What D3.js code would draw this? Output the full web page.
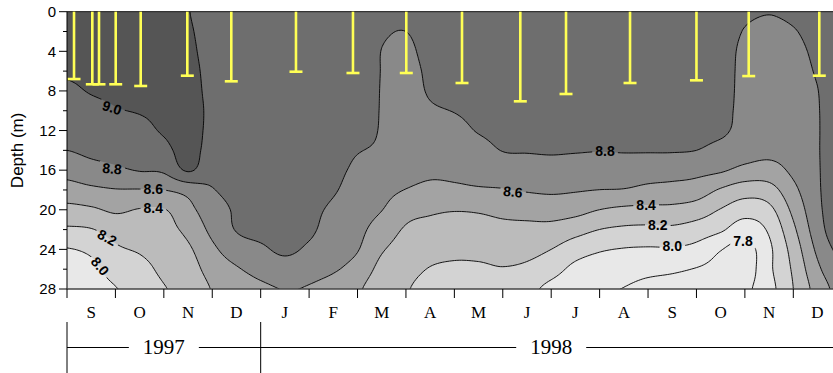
<!DOCTYPE html>
<html>
<head>
<meta charset="utf-8">
<script src="https://cdn.jsdelivr.net/npm/d3@7"></script>
<style>
  body { margin: 0; background: #fff; }
  svg { display: block; }
</style>
</head>
<body>
<div id="chart"></div>
<script>
// months from Sep 1997 to Dec 1998
const monthLabels = ["S", "O", "N", "D", "J", "F", "M", "A", "M", "J", "J", "A", "S", "O", "N", "D"];
const yearLabels = ["1997", "1998"];
const yearStarts = [0, 4];
const yearEnds = [4, 16];
const depthTicks = [0, 4, 8, 12, 16, 20, 24, 28];

// contour levels and the grey used for values >= each level
const levels = [7.8, 8.0, 8.2, 8.4, 8.6, 8.8, 9.0];
const levelColors = ["#e8e8e8", "#d3d3d3", "#bbbbbb", "#a3a3a3", "#898989", "#6e6e6e", "#555555"];

// grid of pH readings: one column per half month, one value per 2 m of depth
const gridMonths = [0, 0.5, 1, 1.5, 2, 2.5, 3, 3.5, 4, 4.5, 5, 5.5, 6, 6.5, 7, 7.5, 8,
  8.5, 9, 9.5, 10, 10.5, 11, 11.5, 12, 12.5, 13, 13.5, 14, 14.5, 15, 15.5, 16];
const gridDepths = [0, 2, 4, 6, 8, 10, 12, 14, 16, 18, 20, 22, 24, 26, 28];
const ph = [
  [9.12, 9.09, 9.05, 9.02, 8.97, 8.91, 8.86, 8.80, 8.67, 8.52, 8.34, 8.17, 7.99, 7.93, 7.88],
  [9.15, 9.12, 9.08, 9.04, 9.01, 8.95, 8.89, 8.84, 8.73, 8.56, 8.37, 8.19, 8.04, 7.95, 7.90],
  [9.16, 9.13, 9.10, 9.06, 9.03, 8.99, 8.93, 8.86, 8.77, 8.59, 8.43, 8.28, 8.17, 8.09, 7.99],
  [9.17, 9.14, 9.12, 9.09, 9.05, 9.01, 8.95, 8.88, 8.81, 8.59, 8.39, 8.30, 8.22, 8.14, 8.09],
  [9.18, 9.16, 9.13, 9.10, 9.07, 9.04, 9.02, 8.94, 8.83, 8.60, 8.39, 8.34, 8.29, 8.24, 8.19],
  [9.01, 9.03, 9.05, 9.07, 9.08, 9.09, 9.09, 9.08, 9.02, 8.67, 8.54, 8.45, 8.37, 8.31, 8.25],
  [8.92, 8.92, 8.92, 8.93, 8.94, 8.95, 8.94, 8.91, 8.86, 8.79, 8.72, 8.65, 8.56, 8.48, 8.41],
  [8.90, 8.90, 8.90, 8.90, 8.90, 8.90, 8.89, 8.88, 8.86, 8.84, 8.82, 8.81, 8.70, 8.58, 8.48],
  [8.90, 8.90, 8.90, 8.90, 8.90, 8.90, 8.89, 8.88, 8.88, 8.88, 8.87, 8.85, 8.77, 8.67, 8.56],
  [8.90, 8.90, 8.90, 8.90, 8.90, 8.90, 8.90, 8.89, 8.88, 8.87, 8.86, 8.85, 8.83, 8.72, 8.605],
  [8.90, 8.90, 8.90, 8.90, 8.90, 8.90, 8.90, 8.89, 8.88, 8.86, 8.84, 8.83, 8.77, 8.68, 8.585],
  [8.90, 8.90, 8.90, 8.90, 8.90, 8.89, 8.88, 8.86, 8.84, 8.815, 8.77, 8.72, 8.67, 8.62, 8.52],
  [8.90, 8.90, 8.90, 8.90, 8.90, 8.89, 8.88, 8.81, 8.77, 8.73, 8.69, 8.65, 8.61, 8.53, 8.43],
  [8.84, 8.82, 8.797, 8.795, 8.792, 8.79, 8.785, 8.77, 8.72, 8.66, 8.605, 8.51, 8.42, 8.34, 8.27],
  [8.83, 8.80, 8.77, 8.75, 8.74, 8.73, 8.72, 8.70, 8.66, 8.595, 8.47, 8.38, 8.325, 8.27, 8.215],
  [8.87, 8.86, 8.85, 8.83, 8.815, 8.78, 8.73, 8.68, 8.63, 8.56, 8.43, 8.34, 8.265, 8.19, 8.12],
  [8.90, 8.89, 8.88, 8.86, 8.84, 8.805, 8.75, 8.70, 8.64, 8.565, 8.41, 8.32, 8.24, 8.17, 8.10],
  [8.90, 8.90, 8.89, 8.88, 8.86, 8.84, 8.81, 8.74, 8.67, 8.58, 8.42, 8.33, 8.25, 8.17, 8.10],
  [8.90, 8.90, 8.90, 8.89, 8.88, 8.86, 8.84, 8.805, 8.70, 8.59, 8.45, 8.35, 8.27, 8.19, 8.11],
  [8.90, 8.90, 8.90, 8.89, 8.88, 8.86, 8.84, 8.81, 8.72, 8.615, 8.47, 8.35, 8.26, 8.16, 8.05],
  [8.90, 8.90, 8.90, 8.89, 8.88, 8.865, 8.845, 8.815, 8.735, 8.63, 8.485, 8.34, 8.20, 8.075, 7.95],
  [8.90, 8.90, 8.90, 8.89, 8.88, 8.86, 8.84, 8.81, 8.72, 8.615, 8.465, 8.275, 8.09, 7.95, 7.87],
  [8.90, 8.90, 8.90, 8.89, 8.88, 8.86, 8.84, 8.805, 8.705, 8.598, 8.399, 8.199, 8.02, 7.90, 7.82],
  [8.90, 8.90, 8.90, 8.89, 8.88, 8.86, 8.84, 8.81, 8.705, 8.59, 8.36, 8.165, 7.99, 7.89, 7.795],
  [8.90, 8.90, 8.90, 8.89, 8.88, 8.86, 8.84, 8.81, 8.695, 8.55, 8.35, 8.155, 7.98, 7.855, 7.74],
  [8.90, 8.90, 8.90, 8.89, 8.88, 8.86, 8.84, 8.81, 8.685, 8.53, 8.35, 8.16, 7.98, 7.83, 7.72],
  [8.90, 8.90, 8.90, 8.89, 8.88, 8.86, 8.84, 8.80, 8.66, 8.50, 8.305, 8.11, 7.94, 7.79, 7.70],
  [8.90, 8.89, 8.88, 8.87, 8.86, 8.85, 8.83, 8.745, 8.625, 8.38, 8.19, 8.03, 7.81, 7.74, 7.70],
  [8.83, 8.79, 8.76, 8.755, 8.755, 8.75, 8.74, 8.69, 8.545, 8.29, 8.09, 7.89, 7.72, 7.70, 7.76],
  [8.805, 8.76, 8.74, 8.73, 8.72, 8.71, 8.69, 8.65, 8.525, 8.32, 8.15, 8.03, 7.96, 7.96, 7.93],
  [8.83, 8.79, 8.76, 8.74, 8.72, 8.71, 8.70, 8.68, 8.64, 8.55, 8.45, 8.36, 8.28, 8.23, 8.20],
  [8.87, 8.86, 8.84, 8.82, 8.795, 8.787, 8.785, 8.785, 8.78, 8.77, 8.75, 8.71, 8.64, 8.56, 8.48],
  [8.97, 8.97, 8.97, 8.97, 8.97, 8.97, 8.97, 8.97, 8.97, 8.97, 8.96, 8.95, 8.86, 8.77, 8.68]
];

// sampling dates (months after 1 Sep 1997) and Secchi depth (m)
const secchiMonth = [0.145, 0.523, 0.661, 1.006, 1.522, 2.485, 3.393, 4.729, 5.906, 7.007,
  8.158, 9.362, 10.306, 11.628, 13.0, 14.079, 15.537];
const secchiDepth = [6.8, 7.33, 7.33, 7.33, 7.5, 6.46, 7.03, 6.06, 6.19, 6.19,
  7.2, 9.05, 8.31, 7.2, 6.93, 6.5, 6.46];

// contour labels: text, month, depth, angle
const labelText = ["9.0", "8.8", "8.6", "8.4", "8.2", "8.0", "8.6", "8.8", "8.4", "8.2", "8.0", "7.8"];
const labelMonth = [0.93, 0.93, 1.78, 1.78, 0.83, 0.68, 9.21, 11.11, 11.96, 12.2, 12.5, 13.96];
const labelDepth = [9.7, 15.85, 17.9, 19.85, 22.8, 25.7, 18.2, 14.1, 19.5, 21.55, 23.7, 23.2];
const labelAngle = [18, 5, 0, 0, 28, 50, 6, 0, 0, 0, 0, 0];

const width = 833, height = 373;
const x = d3.scaleLinear().domain([0, 16]).range([67, 67 + 48.42 * 16]);
const y = d3.scaleLinear().domain([0, 28]).range([11.7, 289]);
const plotRight = width;

const svg = d3.select("#chart").append("svg")
  .attr("width", width)
  .attr("height", height)
  .style("font-family", "'Liberation Sans', Arial, sans-serif");

const defs = svg.append("defs");
defs.append("clipPath").attr("id", "plot-clip")
  .append("rect")
  .attr("x", x(0)).attr("y", y(0))
  .attr("width", plotRight - x(0)).attr("height", y(28) - y(0));

// smooth the grid (Catmull-Rom) so the contours come out as curves
function catmull(p0, p1, p2, p3, s) {
  return p1 + 0.5 * s * (p2 - p0 + s * (2 * p0 - 5 * p1 + 4 * p2 - p3 + s * (3 * (p1 - p2) + p3 - p0)));
}
function sampleAt(arr, u) {
  const n = arr.length;
  const i = Math.min(n - 2, Math.max(0, Math.floor(u)));
  const s = u - i;
  const at = k => arr[Math.max(0, Math.min(n - 1, k))];
  return catmull(at(i - 1), at(i), at(i + 1), at(i + 2), s);
}

const dt = 0.05, dd = 0.25;
const tStep = gridMonths[1] - gridMonths[0];
const dStep = gridDepths[1] - gridDepths[0];
const nx = Math.round(gridMonths[gridMonths.length - 1] / dt) + 1;
const ny = Math.round(gridDepths[gridDepths.length - 1] / dd) + 1;
const values = new Array(nx * ny);
for (let j = 0; j < ny; j++) {
  const v = (j * dd) / dStep;
  const column = ph.map(col => sampleAt(col, v));
  for (let i = 0; i < nx; i++) {
    values[j * nx + i] = sampleAt(column, (i * dt) / tStep);
  }
}

const contours = d3.contours().size([nx, ny]).thresholds(levels)(values);

const proj = d3.geoTransform({
  point(px, py) {
    this.stream.point(x((px - 0.5) * dt), y((py - 0.5) * dd));
  }
});
const path = d3.geoPath(proj);

const plot = svg.append("g").attr("clip-path", "url(#plot-clip)");

plot.append("rect")
  .attr("x", x(0)).attr("y", y(0))
  .attr("width", plotRight - x(0)).attr("height", y(28) - y(0))
  .attr("fill", levelColors[0]);

plot.append("g")
  .selectAll("path")
  .data(contours)
  .join("path")
    .attr("d", path)
    .attr("fill", (d, i) => levelColors[i])
    .attr("stroke", "none");

// mask to break contour lines under their labels
const mask = defs.append("mask").attr("id", "label-mask")
  .attr("maskUnits", "userSpaceOnUse")
  .attr("x", 0).attr("y", 0).attr("width", width).attr("height", height);
mask.append("rect").attr("width", width).attr("height", height).attr("fill", "#fff");

plot.append("g")
  .attr("mask", "url(#label-mask)")
  .selectAll("path")
  .data(contours)
  .join("path")
    .attr("d", path)
    .attr("fill", "none")
    .attr("stroke", "#000")
    .attr("stroke-width", 0.9);

const labels = plot.append("g")
  .selectAll("text")
  .data(labelText)
  .join("text")
    .attr("transform", (d, i) => `translate(${x(labelMonth[i])},${y(labelDepth[i])}) rotate(${labelAngle[i]})`)
    .attr("text-anchor", "middle")
    .attr("dy", "0.35em")
    .style("font-size", "14px")
    .style("font-weight", "bold")
    .attr("fill", "#000")
    .text(d => d);

labels.each(function (d, i) {
  const b = this.getBBox();
  mask.append("rect")
    .attr("transform", `translate(${x(labelMonth[i])},${y(labelDepth[i])}) rotate(${labelAngle[i]})`)
    .attr("x", b.x - 3).attr("y", b.y + 1)
    .attr("width", b.width + 6).attr("height", b.height - 2)
    .attr("fill", "#000");
});

// top border
svg.append("line")
  .attr("x1", x(0)).attr("x2", plotRight)
  .attr("y1", y(0)).attr("y2", y(0))
  .attr("stroke", "#333").attr("stroke-width", 1.2);

// Secchi depth bars
const bars = svg.append("g")
  .attr("stroke", "#ffff55")
  .attr("stroke-width", 2.6);
bars.selectAll("line.stem")
  .data(secchiMonth)
  .join("line")
    .attr("class", "stem")
    .attr("x1", d => x(d)).attr("x2", d => x(d))
    .attr("y1", y(0)).attr("y2", (d, i) => y(secchiDepth[i]));
bars.selectAll("line.cap")
  .data(secchiMonth)
  .join("line")
    .attr("class", "cap")
    .attr("x1", d => x(d) - 6.5).attr("x2", d => x(d) + 6.5)
    .attr("y1", (d, i) => y(secchiDepth[i])).attr("y2", (d, i) => y(secchiDepth[i]));

// depth axis
const yAxis = svg.append("g");
yAxis.append("line")
  .attr("x1", x(0)).attr("x2", x(0))
  .attr("y1", y(0)).attr("y2", y(28))
  .attr("stroke", "#000");
yAxis.selectAll("line.minor")
  .data(depthTicks.slice(0, -1))
  .join("line")
    .attr("class", "minor")
    .attr("x1", x(0) - 4).attr("x2", x(0))
    .attr("y1", d => y(d + 2)).attr("y2", d => y(d + 2))
    .attr("stroke", "#000");
yAxis.selectAll("line.major")
  .data(depthTicks)
  .join("line")
    .attr("class", "major")
    .attr("x1", x(0) - 8).attr("x2", x(0))
    .attr("y1", d => y(d)).attr("y2", d => y(d))
    .attr("stroke", "#000");
yAxis.selectAll("text")
  .data(depthTicks)
  .join("text")
    .attr("x", x(0) - 11)
    .attr("y", d => y(d))
    .attr("dy", "0.35em")
    .attr("text-anchor", "end")
    .style("font-size", "15px")
    .text(d => d);

svg.append("text")
  .attr("transform", `translate(23,${(y(0) + y(28)) / 2}) rotate(-90)`)
  .attr("text-anchor", "middle")
  .style("font-size", "17px")
  .text("Depth (m)");

// month axis
const xAxis = svg.append("g");
xAxis.append("line")
  .attr("x1", x(0)).attr("x2", plotRight)
  .attr("y1", y(28)).attr("y2", y(28))
  .attr("stroke", "#444").attr("stroke-width", 1.3);
xAxis.selectAll("line.tick")
  .data(monthLabels)
  .join("line")
    .attr("class", "tick")
    .attr("x1", (d, i) => x(i)).attr("x2", (d, i) => x(i))
    .attr("y1", y(28)).attr("y2", y(28) + 9)
    .attr("stroke", "#000");
xAxis.selectAll("text")
  .data(monthLabels)
  .join("text")
    .attr("x", (d, i) => x(i + 0.5))
    .attr("y", 318)
    .attr("text-anchor", "middle")
    .style("font-family", "'Liberation Serif', 'Times New Roman', serif")
    .style("font-size", "17px")
    .text(d => d);

// year brackets
const yearY = 347.5;
const years = svg.append("g");
years.append("line")
  .attr("x1", x(0)).attr("x2", plotRight)
  .attr("y1", yearY).attr("y2", yearY)
  .attr("stroke", "#000");
years.selectAll("line.sep")
  .data(yearStarts)
  .join("line")
    .attr("class", "sep")
    .attr("x1", d => x(d)).attr("x2", d => x(d))
    .attr("y1", 322).attr("y2", height)
    .attr("stroke", "#000");
const yearText = years.selectAll("g.year")
  .data(yearLabels)
  .join("g")
    .attr("class", "year");
yearText.append("rect")
  .attr("fill", "#fff");
yearText.append("text")
  .attr("x", (d, i) => x((yearStarts[i] + yearEnds[i]) / 2))
  .attr("y", yearY)
  .attr("dy", "0.33em")
  .attr("text-anchor", "middle")
  .style("font-family", "'Liberation Serif', 'Times New Roman', serif")
  .style("font-size", "21px")
  .text(d => d);
yearText.each(function () {
  const g = d3.select(this);
  const b = g.select("text").node().getBBox();
  g.select("rect")
    .attr("x", b.x - 14).attr("y", yearY - 3)
    .attr("width", b.width + 28).attr("height", 6);
});
</script>
</body>
</html>
